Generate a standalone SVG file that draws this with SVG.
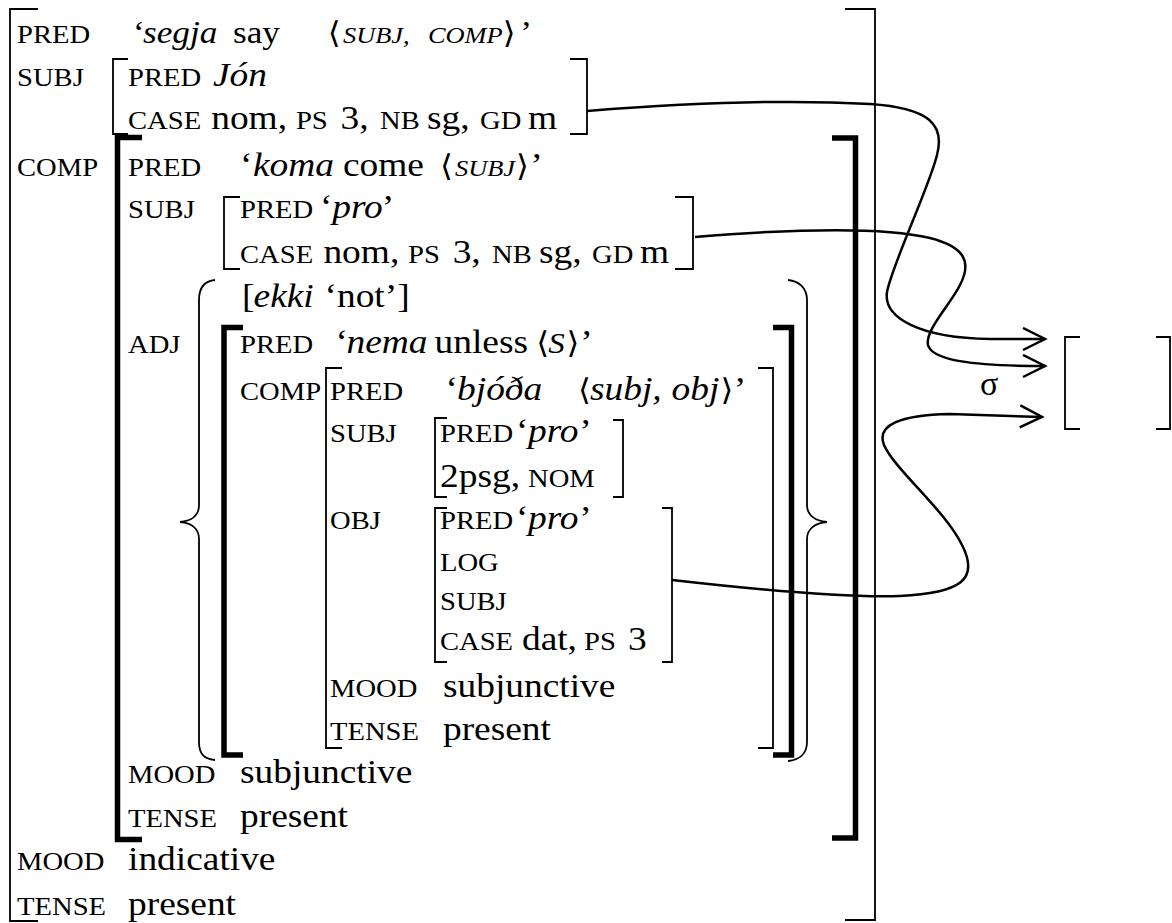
<svg xmlns="http://www.w3.org/2000/svg" width="1172" height="923" viewBox="0 0 1172 923">
<defs>
<style>
text{font-family:"Liberation Serif","Times New Roman",serif;fill:#000}
.lb{font-size:26px}
.v{font-size:34px}
.vi{font-size:34px;font-style:italic}
.r{font-size:32px}
.ri{font-size:32px;font-style:italic}
.ic{font-size:24px;font-style:italic}
.ic2{font-size:30px;font-style:italic}
.an{font-size:30px;font-family:"DejaVu Serif",serif}
.br{fill:none;stroke:#000;stroke-width:1.8}
.tk{fill:none;stroke:#000;stroke-width:5.5}
.cn{fill:none;stroke:#000;stroke-width:2.5}
</style>
<marker id="arr" markerWidth="28" markerHeight="28" refX="24" refY="12" orient="auto" markerUnits="userSpaceOnUse">
<path d="M2,1 L24,12 L2,23" fill="none" stroke="#000" stroke-width="2.5"/>
</marker>
</defs>
<rect width="1172" height="923" fill="#fff"/>

<g id="f-outer">
<path class="br" d="M38,9 H10 V921 H38"/>
<path class="br" d="M845,9 H875 V920 H845"/>
<g transform="scale(1.1 1)">
<text class="lb" x="15.5" y="43">PRED</text>
<text class="r" x="120.9" y="43">‘</text>
<text class="ri" x="130" y="43">segja</text>
<text class="r" x="211.8" y="43">say</text>
<text class="an" x="298" y="43">⟨</text>
<text class="ic" x="311.8" y="43">SUBJ,</text>
<text class="ic" x="389" y="43">COMP</text>
<text class="an" x="457" y="43">⟩</text>
<text class="r" x="473" y="43">’</text>
<text class="lb" x="15.5" y="86">SUBJ</text>
<text class="lb" x="15.5" y="176">COMP</text>
<text class="lb" x="15.5" y="870">MOOD</text>
<text class="v" x="116.4" y="870">indicative</text>
<text class="lb" x="15.5" y="915">TENSE</text>
<text class="v" x="116.4" y="915">present</text>
</g>
</g>

<g id="f-subj-jon">
<path class="br" d="M128,59 H113 V134 H128"/>
<path class="br" d="M570,59 H587 V134 H570"/>
<g transform="scale(1.1 1)">
<text class="lb" x="116.4" y="86">PRED</text>
<text class="vi" x="193.6" y="86">Jón</text>
<text class="lb" x="116.4" y="129">CASE</text>
<text class="v" x="192" y="129">nom,</text>
<text class="lb" x="269" y="129">PS</text>
<text class="v" x="309.5" y="129">3,</text>
<text class="lb" x="345.5" y="129">NB</text>
<text class="v" x="388.2" y="129">sg,</text>
<text class="lb" x="436.4" y="129">GD</text>
<text class="v" x="480" y="129">m</text>
</g>
</g>

<g id="f-comp">
<path class="tk" d="M142,137.5 H117.5 V839.5 H142"/>
<path class="tk" d="M832,138 H855.5 V838 H832"/>
<g transform="scale(1.1 1)">
<text class="lb" x="116.4" y="176">PRED</text>
<text class="v" x="218.2" y="176">‘</text>
<text class="vi" x="230" y="176">koma</text>
<text class="v" x="311.8" y="176">come</text>
<text class="an" x="400" y="176">⟨</text>
<text class="ic" x="413.6" y="176">SUBJ</text>
<text class="an" x="469" y="176">⟩</text>
<text class="v" x="482" y="176">’</text>
<text class="lb" x="116.4" y="218">SUBJ</text>
<text class="lb" x="116.4" y="353">ADJ</text>
<text class="lb" x="116.4" y="783">MOOD</text>
<text class="v" x="218.2" y="783">subjunctive</text>
<text class="lb" x="116.4" y="827">TENSE</text>
<text class="v" x="218.2" y="827">present</text>
</g>
</g>

<g id="f-comp-subj">
<path class="br" d="M240,197 H224 V269 H240"/>
<path class="br" d="M675,197 H693 V269 H675"/>
<g transform="scale(1.1 1)">
<text class="lb" x="218.2" y="218">PRED</text>
<text class="v" x="291" y="218">‘</text>
<text class="vi" x="302" y="218">pro</text>
<text class="v" x="347" y="218">’</text>
<text class="lb" x="218.2" y="263">CASE</text>
<text class="v" x="294" y="263">nom,</text>
<text class="lb" x="371" y="263">PS</text>
<text class="v" x="411.5" y="263">3,</text>
<text class="lb" x="447.3" y="263">NB</text>
<text class="v" x="490" y="263">sg,</text>
<text class="lb" x="538.2" y="263">GD</text>
<text class="v" x="581.8" y="263">m</text>
</g>
</g>

<g id="f-adj-set">
<path class="br" d="M215,280 C204,281 199,288 199,300 V505 C199,515 192,521 180,522 C192,523 199,529 199,539 V742 C199,754 204,759 215,760"/>
<path class="br" d="M788,280 C799,281 807,288 807,300 V505 C807,515 815,521 827,522 C815,523 807,529 807,539 V742 C807,754 799,760 788,761"/>
<g transform="scale(1.1 1)">
<text class="v" x="220" y="307">[</text>
<text class="vi" x="230.5" y="307">ekki</text>
<text class="v" x="295" y="307">‘not’]</text>
</g>
</g>

<g id="f-nema">
<path class="tk" d="M243,327.5 H224 V755 H243"/>
<path class="tk" d="M773,327.5 H791.5 V755 H773"/>
<g transform="scale(1.1 1)">
<text class="lb" x="218.2" y="353">PRED</text>
<text class="v" x="305" y="353">‘</text>
<text class="vi" x="315" y="353">nema</text>
<text class="v" x="395" y="353">unless</text>
<text class="an" x="487.5" y="353">⟨</text>
<text class="ic2" x="498.5" y="353">S</text>
<text class="an" x="515" y="353">⟩</text>
<text class="v" x="527.5" y="353">’</text>
<text class="lb" x="218.2" y="400">COMP</text>
</g>
</g>

<g id="f-bjoda">
<path class="br" d="M342,368 H326 V748 H342"/>
<path class="br" d="M758,368 H773 V748 H758"/>
<g transform="scale(1.1 1)">
<text class="lb" x="300" y="400">PRED</text>
<text class="v" x="405" y="400">‘</text>
<text class="vi" x="415.5" y="400">bjóða</text>
<text class="an" x="525.5" y="400">⟨</text>
<text class="vi" x="536.4" y="400">subj,</text>
<text class="vi" x="610.5" y="400">obj</text>
<text class="an" x="655" y="400">⟩</text>
<text class="v" x="667" y="400">’</text>
<text class="lb" x="300" y="442">SUBJ</text>
<text class="lb" x="300" y="529">OBJ</text>
<text class="lb" x="300" y="697">MOOD</text>
<text class="v" x="402.7" y="697">subjunctive</text>
<text class="lb" x="300" y="740">TENSE</text>
<text class="v" x="402.7" y="740">present</text>
</g>
</g>

<g id="f-bjoda-subj">
<path class="br" d="M447,418 H435 V497 H447"/>
<path class="br" d="M613,420 H623 V497 H613"/>
<g transform="scale(1.1 1)">
<text class="lb" x="400" y="442">PRED</text>
<text class="v" x="469" y="442">‘</text>
<text class="vi" x="480" y="442">pro</text>
<text class="v" x="526.5" y="442">’</text>
<text class="v" x="400" y="487">2psg,</text>
<text class="lb" x="480" y="487">NOM</text>
</g>
</g>

<g id="f-bjoda-obj">
<path class="br" d="M447,508 H435 V662 H447"/>
<path class="br" d="M662,508 H672 V662 H662"/>
<g transform="scale(1.1 1)">
<text class="lb" x="400" y="529">PRED</text>
<text class="v" x="469" y="529">‘</text>
<text class="vi" x="480" y="529">pro</text>
<text class="v" x="526.5" y="529">’</text>
<text class="lb" x="400" y="571">LOG</text>
<text class="lb" x="400" y="610">SUBJ</text>
<text class="lb" x="400" y="650">CASE</text>
<text class="v" x="474.5" y="650">dat,</text>
<text class="lb" x="531" y="650">PS</text>
<text class="v" x="571" y="650">3</text>
</g>
</g>

<g id="sigma-target">
<path class="br" d="M1080,337 H1065 V429 H1080"/>
<path class="br" d="M1156,337 H1170 V429 H1156"/>
</g>

<g id="connectors">
<path class="cn" marker-end="url(#arr)" d="M587,111 C700,102 800,100 870,104 C930,108 945,125 937,155 C930,185 892,265 887,292 C883,318 920,338 990,339 L1045,339"/>
<path class="cn" marker-end="url(#arr)" d="M695,237 C780,230 880,226 930,238 C965,247 972,262 960,285 C950,305 925,330 928,345 C932,360 970,366 1045,366"/>
<path class="cn" marker-end="url(#arr)" d="M672,580 C760,590 850,598 900,596 C960,593 980,580 962,545 C945,510 895,470 884,445 C876,425 900,415 950,414 L1042,417"/>
<text class="v" x="980" y="395">σ</text>
</g>
</svg>
